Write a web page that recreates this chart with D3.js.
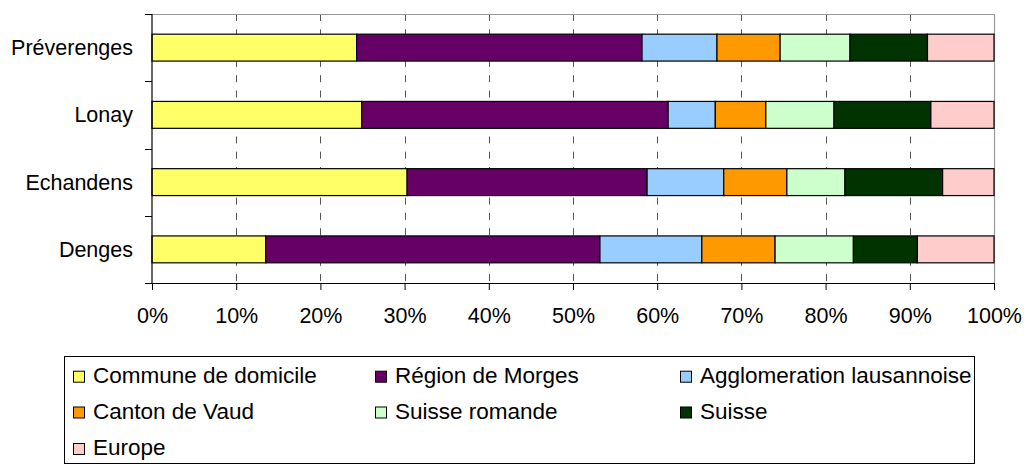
<!DOCTYPE html>
<html>
<head>
<meta charset="utf-8">
<script src="https://cdn.jsdelivr.net/npm/d3@7"></script>
<style>
  html, body { margin: 0; padding: 0; background: #fff; }
  svg { display: block; font-family: "Liberation Sans", Arial, sans-serif; }
</style>
</head>
<body>
<svg id="chart" width="1026" height="464"></svg>
<script>
// ---- data ----
const categories = ["Préverenges", "Lonay", "Echandens", "Denges"];
const seriesNames = ["Commune de domicile", "Région de Morges", "Agglomeration lausannoise",
                     "Canton de Vaud", "Suisse romande", "Suisse", "Europe"];
const seriesColors = ["#FFFF66", "#660066", "#99CCFF", "#FF9900", "#CCFFCC", "#003300", "#FFCCCC"];
const communeDomicile   = [24.3, 24.9, 30.3, 13.5];
const regionMorges      = [33.9, 36.4, 28.5, 39.7];
const agglomeration     = [8.9, 5.6, 9.1, 12.1];
const cantonVaud        = [7.5, 6.0, 7.5, 8.7];
const suisseRomande     = [8.3, 8.1, 6.9, 9.3];
const suisse            = [9.2, 11.5, 11.6, 7.6];
const europe            = [7.9, 7.5, 6.1, 9.1];
const tickValues = [0, 10, 20, 30, 40, 50, 60, 70, 80, 90, 100];
const tickLabels = ["0%", "10%", "20%", "30%", "40%", "50%", "60%", "70%", "80%", "90%", "100%"];

const seriesValues = [communeDomicile, regionMorges, agglomeration, cantonVaud,
                      suisseRomande, suisse, europe];

// build table rows for stacking
const rows = categories.map((c, i) => {
  const r = { cat: c };
  seriesNames.forEach((s, j) => { r[s] = seriesValues[j][i]; });
  return r;
});

const svg = d3.select("#chart");
const plot = { left: 152, right: 994, top: 14, bottom: 283 };

const x = d3.scaleLinear().domain([0, 100]).range([plot.left, plot.right]);
const y = d3.scaleBand().domain(categories).range([plot.top, plot.bottom])
  .paddingInner(0.6).paddingOuter(0.3);

// gridlines
svg.append("g").selectAll("line")
  .data(tickValues.filter(v => v > 0 && v < 100))
  .join("line")
  .attr("x1", d => Math.round(x(d)) + 0.5).attr("x2", d => Math.round(x(d)) + 0.5)
  .attr("y1", plot.top).attr("y2", plot.bottom)
  .attr("stroke", "#555").attr("stroke-width", 1)
  .attr("stroke-dasharray", "7 8.3");

// plot border top/right (grey)
svg.append("path")
  .attr("d", `M${plot.left},${plot.top + 0.5}H${plot.right + 0.5}V${plot.bottom}`)
  .attr("fill", "none").attr("stroke", "#999").attr("stroke-width", 1.2);

// stacked bars
const stack = d3.stack().keys(seriesNames);
const stacked = stack(rows);
svg.append("g").selectAll("g")
  .data(stacked)
  .join("g")
  .attr("fill", (d, i) => seriesColors[i])
  .selectAll("rect")
  .data(d => d)
  .join("rect")
  .attr("x", d => x(d[0]))
  .attr("y", d => y(d.data.cat))
  .attr("width", d => x(d[1]) - x(d[0]))
  .attr("height", y.bandwidth())
  .attr("stroke", "#000").attr("stroke-width", 1.2);

// x axis
const xAxis = d3.axisBottom(x).tickValues(tickValues)
  .tickFormat((d, i) => tickLabels[i]).tickSize(7).tickSizeOuter(0);
const gx = svg.append("g").attr("transform", `translate(0,${plot.bottom})`).call(xAxis);
gx.select(".domain").attr("stroke", "#000").attr("stroke-width", 1.2);
gx.selectAll(".tick line").attr("stroke", "#000");
gx.selectAll(".tick text")
  .attr("y", 40).attr("dy", 0)
  .attr("font-size", "21.5px").attr("fill", "#000")
  .attr("font-family", "'Liberation Sans', Arial, sans-serif");

// y axis line and boundary ticks
const boundaries = [plot.top].concat(categories.map(c => y(c) + y.bandwidth() / 2 + y.step() / 2));
svg.append("line")
  .attr("x1", plot.left).attr("x2", plot.left)
  .attr("y1", plot.top).attr("y2", plot.bottom)
  .attr("stroke", "#000").attr("stroke-width", 1.2);
svg.append("g").selectAll("line")
  .data(boundaries)
  .join("line")
  .attr("x1", plot.left - 7).attr("x2", plot.left)
  .attr("y1", d => Math.round(d) + 0.5).attr("y2", d => Math.round(d) + 0.5)
  .attr("stroke", "#000");

// y category labels
svg.append("g").selectAll("text")
  .data(categories)
  .join("text")
  .attr("x", 133)
  .attr("y", d => y(d) + y.bandwidth() / 2 + 7.5)
  .attr("text-anchor", "end")
  .attr("font-size", "21.5px")
  .attr("fill", "#000")
  .text(d => d);

// legend
const legend = { left: 64, top: 356, right: 974, bottom: 463 };
svg.append("rect")
  .attr("x", legend.left + 0.5).attr("y", legend.top + 0.5)
  .attr("width", legend.right - legend.left).attr("height", legend.bottom - legend.top)
  .attr("fill", "#fff").attr("stroke", "#000").attr("stroke-width", 1);

const colX = [73, 375, 680];
const rowBase = [382.7, 418.5, 455];
const lg = svg.append("g").selectAll("g")
  .data(seriesNames)
  .join("g")
  .attr("transform", (d, i) => `translate(${colX[i % 3]},${rowBase[Math.floor(i / 3)]})`);
lg.append("rect")
  .attr("x", 0.5).attr("y", -11.5).attr("width", 11).attr("height", 11)
  .attr("fill", (d, i) => seriesColors[i])
  .attr("stroke", "#000").attr("stroke-width", 1);
lg.append("text")
  .attr("x", 20).attr("y", 0)
  .attr("font-size", "22.5px").attr("fill", "#000")
  .text(d => d);
</script>
</body>
</html>
